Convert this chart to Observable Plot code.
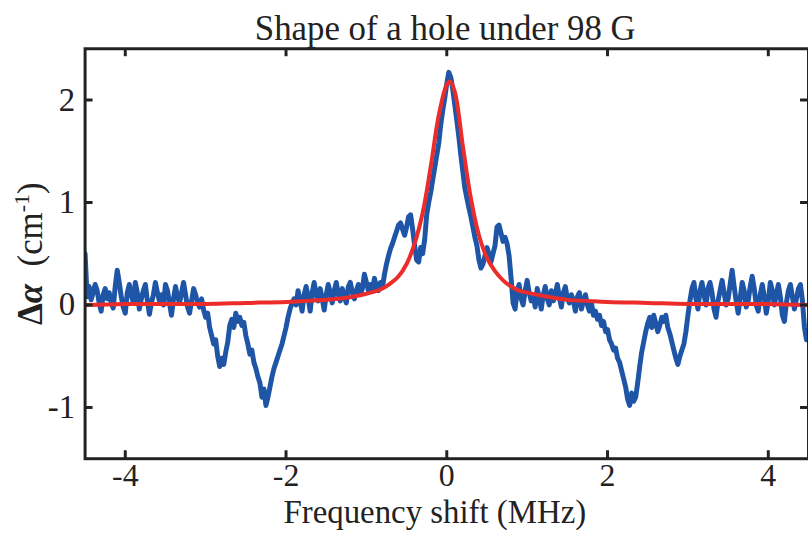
<!DOCTYPE html>
<html><head><meta charset="utf-8">
<script src="https://cdn.jsdelivr.net/npm/d3@7"></script>
<script src="https://cdn.jsdelivr.net/npm/@observablehq/plot@0.6"></script>
<style>html,body{margin:0;padding:0;overflow:hidden;background:#fff}</style>
</head><body><div id="chart"></div>
<script>
const titleText = "Shape of a hole under 98 G";
const xLabel = "Frequency shift (MHz)";
const xTicks = [-4, -2, 0, 2, 4];
const yTicks = [-1, 0, 1, 2];
const xDomain = [-4.5, 4.5];
const yDomain = [-1.5, 2.5];

// measured hole spectrum, sampled every 0.025 MHz from -4.5 MHz
const freqStart = -4.5, freqStep = 0.025;
const measured = [
  /* -4.50 */ 0.50, 0.08, 0.18, 0.05, 0.12, 0.20, 0.14, 0.02, -0.06, 0.10,
  /* -4.25 */ 0.16, 0.06, 0.12, 0.02, -0.03, 0.18, 0.34, 0.22, 0.08, -0.02,
  /* -4.00 */ -0.08, 0.12, 0.20, 0.10, 0.02, 0.22, 0.12, -0.04, 0.06, 0.14,
  /* -3.75 */ 0.20, 0.04, -0.09, 0.02, 0.10, 0.22, 0.12, 0.04, 0.10, 0.00,
  /* -3.50 */ 0.20, 0.14, 0.02, -0.10, 0.06, 0.18, 0.08, 0.02, 0.12, 0.22,
  /* -3.25 */ 0.10, -0.02, -0.08, 0.04, 0.16, 0.10, 0.02, -0.02, 0.06, -0.05,
  /* -3.00 */ -0.12, -0.08, -0.22, -0.30, -0.38, -0.34, -0.50, -0.60, -0.52, -0.58,
  /* -2.75 */ -0.46, -0.36, -0.20, -0.14, -0.22, -0.08, -0.16, -0.12, -0.20, -0.17,
  /* -2.50 */ -0.30, -0.38, -0.48, -0.44, -0.56, -0.62, -0.70, -0.76, -0.90, -0.82,
  /* -2.25 */ -0.98, -0.90, -0.80, -0.70, -0.62, -0.56, -0.50, -0.44, -0.38, -0.30,
  /* -2.00 */ -0.22, -0.12, -0.04, 0.02, 0.06, 0.00, 0.14, 0.04, -0.06, 0.10,
  /* -1.75 */ 0.18, 0.08, -0.06, 0.12, 0.22, 0.10, 0.04, 0.16, 0.06, -0.05,
  /* -1.50 */ 0.10, 0.20, 0.12, 0.02, 0.14, 0.22, 0.10, 0.04, 0.16, 0.08,
  /* -1.25 */ 0.02, 0.18, 0.22, 0.12, 0.06, 0.14, 0.20, 0.10, 0.16, 0.30,
  /* -1.00 */ 0.22, 0.14, 0.20, 0.14, 0.26, 0.18, 0.14, 0.22, 0.18, 0.30,
  /* -0.75 */ 0.40, 0.48, 0.55, 0.60, 0.66, 0.72, 0.78, 0.80, 0.74, 0.68,
  /* -0.50 */ 0.76, 0.86, 0.88, 0.74, 0.58, 0.44, 0.42, 0.56, 0.50, 0.64,
  /* -0.25 */ 0.88, 1.00, 1.10, 1.22, 1.34, 1.46, 1.58, 1.76, 1.90, 2.02,
  /*  0.00 */ 2.16, 2.27, 2.22, 2.10, 1.95, 1.80, 1.64, 1.46, 1.30, 1.14,
  /*  0.25 */ 1.04, 0.95, 0.86, 0.76, 0.66, 0.58, 0.44, 0.36, 0.40, 0.48,
  /*  0.50 */ 0.56, 0.50, 0.42, 0.50, 0.58, 0.76, 0.78, 0.70, 0.62, 0.66,
  /*  0.75 */ 0.60, 0.48, 0.26, 0.02, -0.04, 0.14, 0.20, 0.06, 0.00, 0.14,
  /*  1.00 */ 0.24, 0.12, 0.04, 0.10, -0.02, 0.16, 0.08, -0.04, 0.10, 0.18,
  /*  1.25 */ 0.06, 0.00, 0.14, 0.04, 0.10, 0.20, 0.08, -0.02, 0.12, 0.18,
  /*  1.50 */ 0.06, 0.02, 0.10, 0.04, -0.06, 0.08, 0.12, -0.04, 0.04, 0.10,
  /*  1.75 */ 0.00, -0.06, 0.02, -0.10, -0.06, -0.14, -0.10, -0.20, -0.16, -0.26,
  /*  2.00 */ -0.24, -0.34, -0.38, -0.44, -0.42, -0.52, -0.56, -0.64, -0.72, -0.80,
  /*  2.25 */ -0.92, -0.98, -0.86, -0.94, -0.90, -0.76, -0.60, -0.46, -0.36, -0.26,
  /*  2.50 */ -0.18, -0.12, -0.22, -0.10, -0.18, -0.26, -0.20, -0.12, -0.16, -0.10,
  /*  2.75 */ -0.22, -0.28, -0.36, -0.44, -0.52, -0.58, -0.50, -0.44, -0.38, -0.26,
  /*  3.00 */ -0.10, 0.04, 0.16, 0.22, 0.06, -0.04, 0.14, 0.22, 0.10, 0.00,
  /*  3.25 */ 0.16, 0.22, 0.12, -0.04, -0.12, 0.04, 0.14, 0.24, 0.12, 0.00,
  /*  3.50 */ 0.06, 0.20, 0.34, 0.18, 0.04, -0.08, 0.06, 0.22, 0.14, -0.02,
  /*  3.75 */ 0.04, 0.18, 0.28, 0.16, 0.00, -0.06, 0.10, 0.20, 0.08, -0.08,
  /*  4.00 */ 0.04, 0.22, 0.14, 0.00, 0.10, 0.20, 0.08, -0.10, -0.16, 0.02,
  /*  4.25 */ 0.14, 0.20, 0.08, -0.04, 0.06, 0.16, 0.20, 0.04, -0.22, -0.34,
  /*  4.50 */ -0.30
];

// Lorentzian fit curve
const fitFreq = [-4.5, -4, -3.5, -3, -2.5, -2, -1.75, -1.5, -1.25, -1, -0.9, -0.8, -0.7, -0.6, -0.5, -0.4, -0.3, -0.2, -0.1, 0, 0.04, 0.1, 0.2, 0.3, 0.4, 0.5, 0.6, 0.7, 0.8, 0.9, 1, 1.25, 1.5, 1.75, 2, 2.5, 3, 3.5, 4, 4.5];
const fitValue = [0.00, 0.01, 0.01, 0.01, 0.02, 0.03, 0.04, 0.05, 0.07, 0.11, 0.13, 0.16, 0.21, 0.28, 0.40, 0.60, 0.90, 1.35, 1.85, 2.15, 2.18, 2.08, 1.55, 1.04, 0.68, 0.46, 0.33, 0.24, 0.18, 0.14, 0.12, 0.08, 0.05, 0.04, 0.03, 0.02, 0.01, 0.01, 0.01, 0.00];

const measuredData = measured.map((v, i) => ({f: freqStart + i * freqStep, v}));
const fitData = fitFreq.map((f, i) => ({f, v: fitValue[i]}));

const W = 812, H = 533, mL = 85, mR = 0, mT = 48.5, mB = 72.5;
const plotW = W - mL - mR, plotH = H - mT - mB;
const ink = "#222";
const tickLen = 8;

const chart = Plot.plot({
  width: W, height: H,
  marginLeft: mL, marginRight: mR, marginTop: mT, marginBottom: mB,
  style: {fontFamily: '"Liberation Serif", serif', fontSize: "33px", color: ink, background: "#fff"},
  x: {domain: xDomain},
  y: {domain: yDomain},
  marks: [
    Plot.line(measuredData, {x: "f", y: "v", stroke: "#1f55a6", strokeWidth: 5, strokeLinejoin: "round", clip: true}),
    Plot.line(fitData, {x: "f", y: "v", stroke: "#ec2b2b", strokeWidth: 4, curve: "catmull-rom", clip: true}),
    Plot.ruleX(xTicks, {stroke: ink, strokeWidth: 3, insetTop: plotH - tickLen}),
    Plot.ruleX(xTicks, {stroke: ink, strokeWidth: 3, insetBottom: plotH - tickLen}),
    Plot.ruleY(yTicks, {stroke: ink, strokeWidth: 3, insetRight: plotW - tickLen}),
    Plot.ruleY(yTicks, {stroke: ink, strokeWidth: 3, insetLeft: plotW - tickLen}),
    Plot.frame({stroke: ink, strokeWidth: 3}),
    Plot.axisX({anchor: "bottom", ticks: xTicks, tickSize: 0, tickPadding: 5, fontSize: 32, tickFormat: d => `${d}`, label: null}),
    Plot.axisY({anchor: "left", ticks: yTicks, tickSize: 0, tickPadding: 10, fontSize: 33, tickFormat: d => `${d}`, label: null})
  ]
});

const svg = d3.select(chart);
svg.append("text")
  .attr("x", 447.5).attr("y", 40)
  .attr("text-anchor", "middle")
  .attr("font-size", 35).attr("fill", ink)
  .text(titleText);
svg.append("text")
  .attr("x", 437).attr("y", 525.5)
  .attr("text-anchor", "middle")
  .attr("font-size", 33).attr("fill", ink)
  .text(xLabel);
const yl = svg.append("text")
  .attr("transform", "translate(42,255) rotate(-90)")
  .attr("text-anchor", "middle")
  .attr("font-size", 35).attr("fill", ink);
yl.append("tspan").attr("font-weight", "bold").text("Δ");
yl.append("tspan").attr("font-weight", "bold").attr("font-style", "italic").text("α");
yl.append("tspan").text("\u00a0\u00a0(cm");
yl.append("tspan").attr("font-size", 22).attr("dy", -13).text("-1");
yl.append("tspan").attr("dy", 13).text(")");

document.getElementById("chart").appendChild(chart);
</script>
</body></html>
